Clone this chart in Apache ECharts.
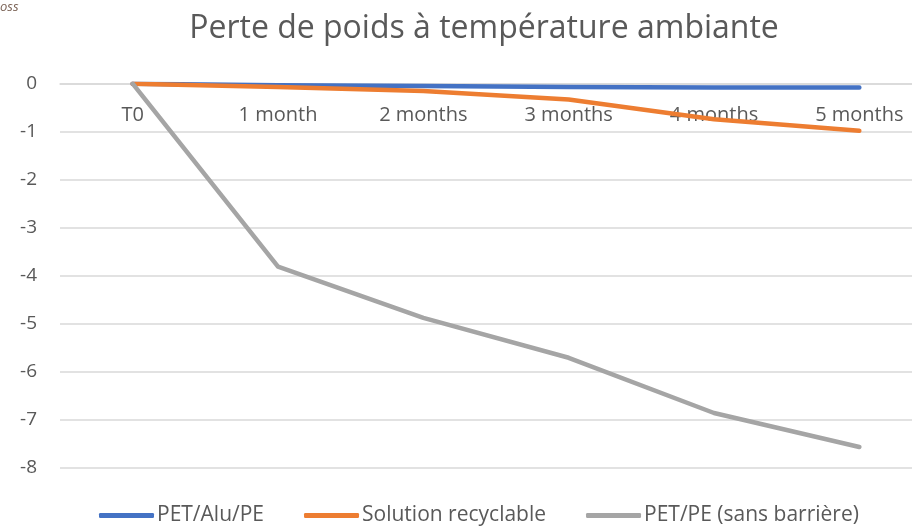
<!DOCTYPE html>
<html>
<head>
<meta charset="utf-8">
<script src="https://cdn.jsdelivr.net/npm/echarts@6/dist/echarts.min.js"></script>
<style>
  html, body { margin: 0; padding: 0; background: #fff; }
  #chart { width: 912px; height: 531px; }
</style>
</head>
<body>
<div id="chart"></div>
<script>
const categories = ['T0', '1 month', '2 months', '3 months', '4 months', '5 months']
const petAluPe = [0, -0.03, -0.05, -0.07, -0.08, -0.08]
const recyclable = [0, -0.07, -0.15, -0.33, -0.74, -0.98]
const petPe = [0, -3.81, -4.88, -5.71, -6.86, -7.57]
const yTicks = { min: -8, max: 0, step: 1 }
const seriesNames = ['PET/Alu/PE', 'Solution recyclable', 'PET/PE (sans barrière)']
const colors = ['#4472C4', '#ED7D31', '#A5A5A5']

const font = '"Open Sans", "Noto Sans", sans-serif'

const myChart = echarts.init(document.getElementById('chart'))

function lineSeries (name, data, color) {
  return {
    name: name,
    type: 'line',
    data: data,
    symbol: 'none',
    color: color,
    lineStyle: { width: 4.5, color: color, cap: 'round', join: 'round' }
  }
}

myChart.setOption({
  animation: false,
  title: {
    text: 'Perte de poids à température ambiante',
    left: 479,
    textAlign: 'center',
    top: 8,
    textStyle: { fontFamily: font, fontSize: 32, fontWeight: 'normal', color: '#595959' }
  },
  graphic: [{
    type: 'text',
    left: 0,
    top: 1,
    style: { text: 'oss', fontFamily: font, fontStyle: 'italic', fontSize: 13, fill: '#7a6255' }
  }],
  legend: {
    data: seriesNames,
    left: 99,
    top: 505,
    padding: 0,
    itemWidth: 55,
    itemHeight: 5,
    itemGap: 40,
    icon: 'roundRect',
    textStyle: { fontFamily: font, fontSize: 21, color: '#595959', padding: [0, 0, 0, -2] }
  },
  // plot area runs past the right edge of the picture, like the cropped original
  grid: { left: 60, width: 872, top: 83.7, bottom: 63.3, outerBoundsMode: 'none' },
  xAxis: {
    type: 'category',
    data: categories,
    position: 'top',
    boundaryGap: true,
    axisLine: { lineStyle: { color: '#d9d9d9', width: 1.5 } },
    axisTick: { show: false },
    axisLabel: { inside: true, fontFamily: font, fontSize: 20, color: '#595959', margin: 22 }
  },
  yAxis: {
    type: 'value',
    min: yTicks.min,
    max: yTicks.max,
    interval: yTicks.step,
    axisLine: { show: false },
    axisTick: { show: false },
    splitLine: { lineStyle: { color: '#d9d9d9', width: 1.5 } },
    axisLabel: { fontFamily: font, fontSize: 19, color: '#595959', margin: 23 }
  },
  series: [
    lineSeries(seriesNames[0], petAluPe, colors[0]),
    lineSeries(seriesNames[1], recyclable, colors[1]),
    lineSeries(seriesNames[2], petPe, colors[2])
  ]
})
</script>
</body>
</html>
